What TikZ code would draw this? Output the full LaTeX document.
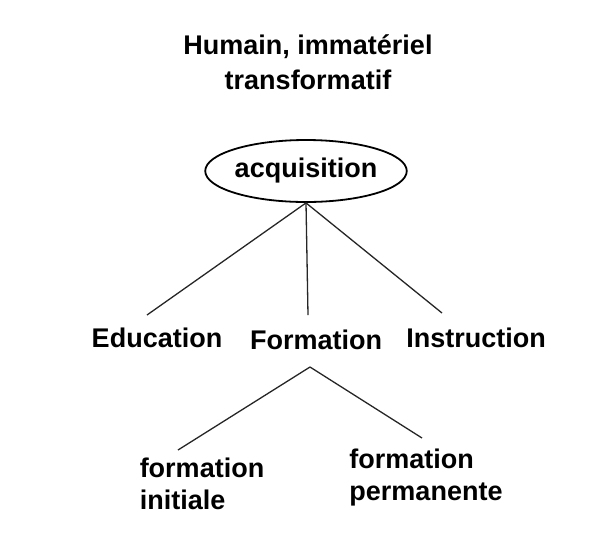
\documentclass[tikz,border=0pt]{standalone}
\usepackage{fontspec}
\setmainfont{Liberation Sans}
\usetikzlibrary{shapes.geometric}
\begin{document}
\begin{tikzpicture}[x=1pt,y=-1pt,font=\bfseries\fontsize{27}{32}\selectfont,
	lbl/.style={inner sep=0pt,align=left},
	trait/.style={line width=1.3pt,black!85}]
	\useasboundingbox (0,0) rectangle (596,539);
	\node[lbl,align=center,font=\bfseries\fontsize{27}{35}\selectfont] (titre) at (308,62) {Humain, immatériel\\transformatif};
	\node[draw,ellipse,line width=1.8pt,minimum width=195pt,minimum height=62pt,inner sep=0pt] (acq) at (306,171) {acquisition};
	\path
	(147,315) coordinate (E)
	(308,315) coordinate (F)
	(442,313) coordinate (I)
	(310,367) coordinate (S)
	(178,450) coordinate (Fi)
	(422,438) coordinate (Fp)
	;
	\node[lbl] (edu) at (157,338) {Education};
	\node[lbl] (form) at (316,340) {Formation};
	\node[lbl] (instr) at (476,338) {Instruction};
	\node[lbl] (init) at (202,484) {formation\\initiale};
	\node[lbl] (perm) at (426,478) {formation\\permanente};
	\foreach \x in {E,F,I}\draw[trait] (acq.south)--(\x);
	\foreach \x in {Fi,Fp}\draw[trait] (S)--(\x);
\end{tikzpicture}
\end{document}
